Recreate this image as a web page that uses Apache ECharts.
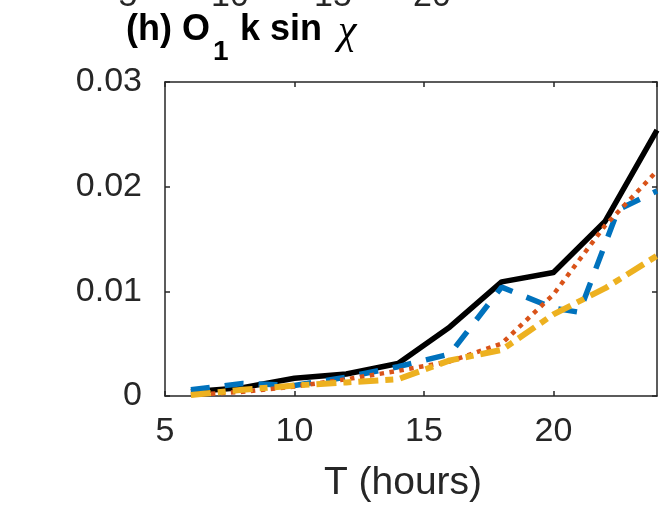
<!DOCTYPE html>
<html>
<head>
<meta charset="utf-8">
<script src="https://cdn.jsdelivr.net/npm/echarts@6/dist/echarts.min.js"></script>
<style>
html,body{margin:0;padding:0;background:#fff;}
#chart{width:663px;height:508px;}
</style>
</head>
<body>
<div id="chart"></div>
<script>
// ---- data ----
const tHours = [6, 8, 10, 12, 14, 16, 18, 20, 22, 24];
const blackVals = [0.0004, 0.0008, 0.0017, 0.0021, 0.0031, 0.0066, 0.0109, 0.0118, 0.0167, 0.0254];
const orangeVals = [0.0001, 0.0004, 0.0009, 0.0016, 0.0024, 0.0033, 0.0050, 0.0097, 0.0163, 0.0215];
const yellowVals = [0.0001, 0.0006, 0.0010, 0.0013, 0.0016, 0.0034, 0.0044, 0.0078, 0.0103, 0.0134];
const blueHours = [6, 8, 10, 12, 14, 16, 18, 20, 21, 22.5, 24];
const blueVals = [0.0006, 0.0012, 0.0010, 0.0018, 0.0028, 0.0040, 0.0104, 0.0084, 0.0080, 0.0178, 0.0196];
const xTicks = [5, 10, 15, 20];
const yTicks = [0, 0.01, 0.02, 0.03];
const topCutTicks = ['5', '10', '15', '20'];
const xLabel = 'T (hours)';

// ---- chart ----
const pairs = (xs, ys) => xs.map((x, i) => [x, ys[i]]);
const axisColor = '#262626';
const font = 'Liberation Sans, Arial, Helvetica, sans-serif';

const chart = echarts.init(document.getElementById('chart'), null, {renderer: 'canvas'});

const topCutX = [128, 230, 333, 432];

const option = {
  animation: false,
  backgroundColor: '#ffffff',
  grid: {left: 165, top: 82, width: 492, height: 319, containLabel: false},
  xAxis: [{
    type: 'value', min: 5, max: 24, interval: 5,
    position: 'bottom',
    axisLine: {show: true, onZero: false, lineStyle: {color: axisColor, width: 1.5}},
    axisTick: {show: true, inside: true, length: 5, lineStyle: {color: axisColor, width: 1.5}},
    axisLabel: {color: axisColor, fontSize: 34, fontFamily: font, margin: 19,
      showMaxLabel: false,
      formatter: v => xTicks.includes(v) ? String(v) : ''},
    splitLine: {show: false},
    name: xLabel, nameLocation: 'middle', nameGap: 68,
    nameTextStyle: {color: axisColor, fontSize: 39, fontFamily: font, padding: [0, 16, 0, 0]}
  }, {
    type: 'value', min: 5, max: 24, interval: 5,
    position: 'top',
    axisLine: {show: true, onZero: false, lineStyle: {color: axisColor, width: 1.5}},
    axisTick: {show: true, inside: true, length: 5, lineStyle: {color: axisColor, width: 1.5}},
    axisLabel: {show: false},
    splitLine: {show: false}
  }],
  yAxis: [{
    type: 'value', min: 0, max: 0.03, interval: 0.01,
    position: 'left',
    axisLine: {show: true, onZero: false, lineStyle: {color: axisColor, width: 1.5}},
    axisTick: {show: true, inside: true, length: 5, lineStyle: {color: axisColor, width: 1.5}},
    axisLabel: {color: axisColor, fontSize: 34, fontFamily: font, margin: 23,
      formatter: v => {
        const t = yTicks.find(y => Math.abs(y - v) < 1e-9);
        return t === undefined ? '' : (t === 0 ? '0' : t.toFixed(2));
      }},
    splitLine: {show: false}
  }, {
    type: 'value', min: 0, max: 0.03, interval: 0.01,
    position: 'right',
    axisLine: {show: true, onZero: false, lineStyle: {color: axisColor, width: 1.5}},
    axisTick: {show: true, inside: true, length: 5, lineStyle: {color: axisColor, width: 1.5}},
    axisLabel: {show: false},
    splitLine: {show: false}
  }],
  series: [
    {type: 'line', data: pairs(tHours, blackVals), showSymbol: false, symbol: 'none',
     lineStyle: {color: '#000000', width: 5.5, join: 'round'}, z: 2},
    {type: 'line', data: pairs(blueHours, blueVals), showSymbol: false, symbol: 'none',
     lineStyle: {color: '#0072BD', width: 5.5, type: [19, 15]}, z: 3},
    {type: 'line', data: pairs(tHours, orangeVals), showSymbol: false, symbol: 'none',
     lineStyle: {color: '#D95319', width: 4.5, type: [4.5, 5.5]}, z: 4},
    {type: 'line', data: pairs(tHours, yellowVals), showSymbol: false, symbol: 'none',
     lineStyle: {color: '#EDB120', width: 6, type: [20, 7, 8, 7]}, z: 5}
  ],
  graphic: [
    ...topCutTicks.map((t, i) => ({
      type: 'text', x: topCutX[i], y: 14,
      style: {text: t, fill: axisColor, font: '34px ' + font, align: 'center', verticalAlign: 'bottom'}
    })),
    {type: 'text', left: 126, top: 12,
     style: {text: '(h) O', fill: '#000', font: 'bold 36px ' + font}},
    {type: 'text', left: 213, top: 38,
     style: {text: '1', fill: '#000', font: 'bold 28px ' + font}},
    {type: 'text', left: 240, top: 12,
     style: {text: 'k sin', fill: '#000', font: 'bold 36px ' + font}},
    {type: 'text', left: 338, top: 11,
     style: {text: 'χ', fill: '#000', font: 'italic 42px Liberation Serif, Times New Roman, serif'}}
  ]
};
chart.setOption(option);
</script>
</body>
</html>
